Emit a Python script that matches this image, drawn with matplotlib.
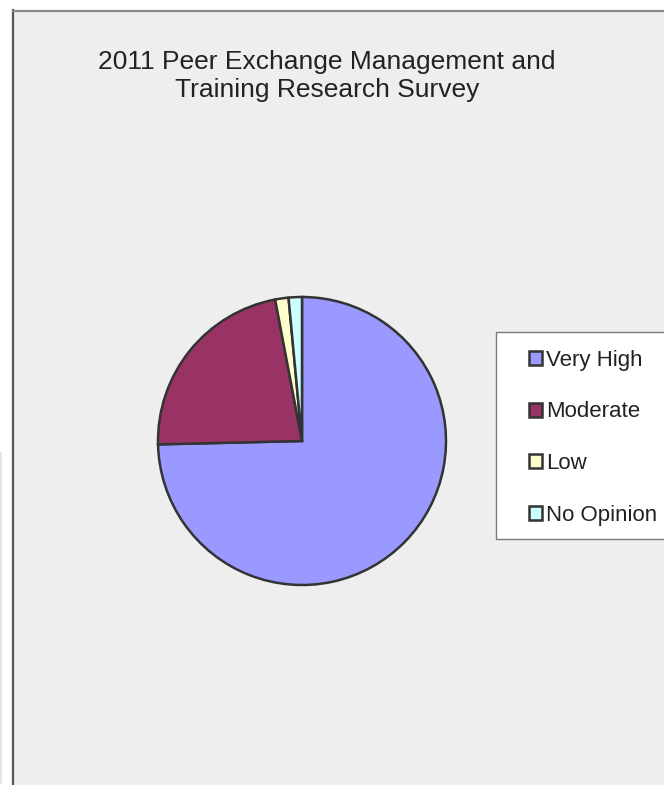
import matplotlib
matplotlib.use("Agg")
import matplotlib.pyplot as plt
from matplotlib.patches import Rectangle, Patch

plt.rcParams['font.family'] = ['Liberation Sans', 'DejaVu Sans']

# Survey responses
categories = ["Very High", "Moderate", "Low", "No Opinion"]
responses = [50, 15, 1, 1]
colors = ["#9999FF", "#993366", "#FFFFCC", "#CCFFFF"]
title = "2011 Peer Exchange Management and\nTraining Research Survey"

W, H = 664, 785
fig = plt.figure(figsize=(W / 100, H / 100), dpi=100)
fig.patch.set_facecolor("white")

def fx(px):
    return px / W

def fy(py):
    return 1 - py / H

# Chart area background and border
fig.patches.append(Rectangle((fx(13), 0), 1 - fx(13) + 0.01, fy(10), transform=fig.transFigure,
                             facecolor="#EEEEEE", edgecolor="none", zorder=-5))
fig.add_artist(plt.Line2D([fx(13), fx(13)], [0, fy(10)], color="#555555", lw=1.6,
                          transform=fig.transFigure, zorder=-4))
fig.add_artist(plt.Line2D([fx(13), 1], [fy(10.5), fy(10.5)], color="#8A8A8A", lw=1.6,
                          transform=fig.transFigure, zorder=-4))
# faint strip at the far left
fig.add_artist(plt.Line2D([fx(0.6), fx(0.6)], [fy(783), fy(453)], color="#D6E2EE", lw=1.2,
                          transform=fig.transFigure, zorder=-4))

fig.text(fx(327), fy(76), title, ha="center", va="center", fontsize=19,
         color="#222222", linespacing=1.22)

# Pie
cx, cy, r = 302, 441, 144
ax = fig.add_axes([fx(cx - r), fy(cy + r), fx(2 * r), (2 * r) / H])
wedges, _ = ax.pie(responses, colors=colors, startangle=90, counterclock=False, radius=1,
                   wedgeprops=dict(edgecolor="#333333", linewidth=1.8))
ax.set_xlim(-1.0, 1.0)
ax.set_ylim(-1.0, 1.0)
ax.set_aspect("equal")
ax.axis("off")
for w in wedges:
    w.set_clip_on(False)

# Legend box
fig.patches.append(Rectangle((fx(496), fy(539)), 1 - fx(496) + 0.01, (539 - 332) / H,
                             transform=fig.transFigure, facecolor="white",
                             edgecolor="#7A7A7A", linewidth=1.0, zorder=1))
handles = [Patch(facecolor=c, edgecolor="#333333", linewidth=1.8) for c in colors]
leg = fig.legend(handles, categories, loc="upper left", bbox_to_anchor=(fx(511), fy(332)),
                 frameon=False, fontsize=16, handlelength=0.58, handleheight=0.58,
                 handletextpad=0.2, labelspacing=1.38, borderpad=0.3)
leg.set_zorder(2)
for t in leg.get_texts():
    t.set_color("#222222")

fig.savefig("out.png", dpi=100)
